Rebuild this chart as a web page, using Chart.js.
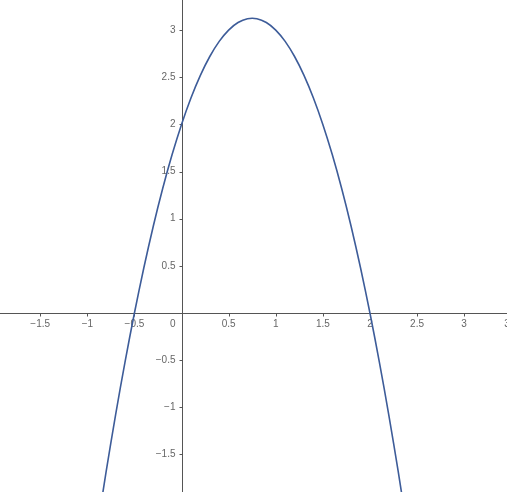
<!DOCTYPE html>
<html>
<head>
<meta charset="utf-8">
<script src="https://cdn.jsdelivr.net/npm/chart.js@4"></script>
<style>
  html, body { margin: 0; padding: 0; background: #fff; }
  canvas { display: block; }
</style>
</head>
<body>
<canvas id="plot" width="507" height="492"></canvas>
<script>
// points
var curveX = [-0.9, -0.8, -0.7, -0.6, -0.5, -0.4, -0.3, -0.2, -0.1, 0,
              0.1, 0.2, 0.3, 0.4, 0.5, 0.6, 0.7, 0.8, 0.9, 1,
              1.1, 1.2, 1.3, 1.4, 1.5, 1.6, 1.7, 1.8, 1.9, 2,
              2.1, 2.2, 2.3, 2.4];
var curveY = [-2.32, -1.68, -1.08, -0.52, 0, 0.48, 0.92, 1.32, 1.68, 2,
              2.28, 2.52, 2.72, 2.88, 3, 3.08, 3.12, 3.12, 3.08, 3,
              2.88, 2.72, 2.52, 2.28, 2, 1.68, 1.32, 0.92, 0.48, 0,
              -0.52, -1.08, -1.68, -2.32];

var xTicks = [-1.5, -1, -0.5, 0.5, 1, 1.5, 2, 2.5, 3, 3.5];
var yTicks = [-1.5, -1, -0.5, 0.5, 1, 1.5, 2, 2.5, 3];

var xRange = [-1.927, 3.455];
var yRange = [-1.898, 3.319];

function fmt(v) {
  var s = String(Math.abs(v));
  return v < 0 ? '\u2212' + s : s;
}

// axes through the origin, like a graphing calculator
var originAxes = {
  id: 'originAxes',
  beforeDatasetsDraw: function(chart) {
    var ctx = chart.ctx;
    var xs = chart.scales.x, ys = chart.scales.y;
    var ox = Math.round(xs.getPixelForValue(0)) + 0.5;
    var oy = Math.round(ys.getPixelForValue(0)) + 0.5;
    var area = chart.chartArea;
    ctx.save();
    ctx.strokeStyle = '#555';
    ctx.lineWidth = 1;
    ctx.beginPath();
    ctx.moveTo(area.left, oy); ctx.lineTo(area.right, oy);
    ctx.moveTo(ox, area.top); ctx.lineTo(ox, area.bottom);
    xTicks.forEach(function(t) {
      var px = Math.round(xs.getPixelForValue(t)) + 0.5;
      ctx.moveTo(px, oy); ctx.lineTo(px, oy + 3);
    });
    yTicks.forEach(function(t) {
      var py = Math.round(ys.getPixelForValue(t)) + 0.5;
      ctx.moveTo(ox, py); ctx.lineTo(ox - 3, py);
    });
    ctx.stroke();

    ctx.fillStyle = '#666';
    ctx.font = '10px "Liberation Sans", Arial, sans-serif';
    ctx.textAlign = 'center';
    ctx.textBaseline = 'middle';
    xTicks.forEach(function(t) {
      ctx.fillText(fmt(t), xs.getPixelForValue(t), oy + 11);
    });
    ctx.textAlign = 'right';
    yTicks.forEach(function(t) {
      ctx.fillText(fmt(t), ox - 7, ys.getPixelForValue(t));
    });
    ctx.fillText('0', ox - 7, oy + 11);
    ctx.restore();
  }
};

var points = curveX.map(function(x, i) { return { x: x, y: curveY[i] }; });

new Chart(document.getElementById('plot'), {
  type: 'scatter',
  data: {
    datasets: [{
      data: points,
      showLine: true,
      borderColor: '#3d5c99',
      borderWidth: 1.6,
      pointRadius: 0,
      tension: 0.3,
      fill: false
    }]
  },
  options: {
    responsive: false,
    animation: false,
    layout: { padding: 0 },
    plugins: { legend: { display: false }, tooltip: { enabled: false } },
    scales: {
      x: { type: 'linear', min: xRange[0], max: xRange[1], display: false },
      y: { type: 'linear', min: yRange[0], max: yRange[1], display: false }
    }
  },
  plugins: [originAxes]
});
</script>
</body>
</html>
